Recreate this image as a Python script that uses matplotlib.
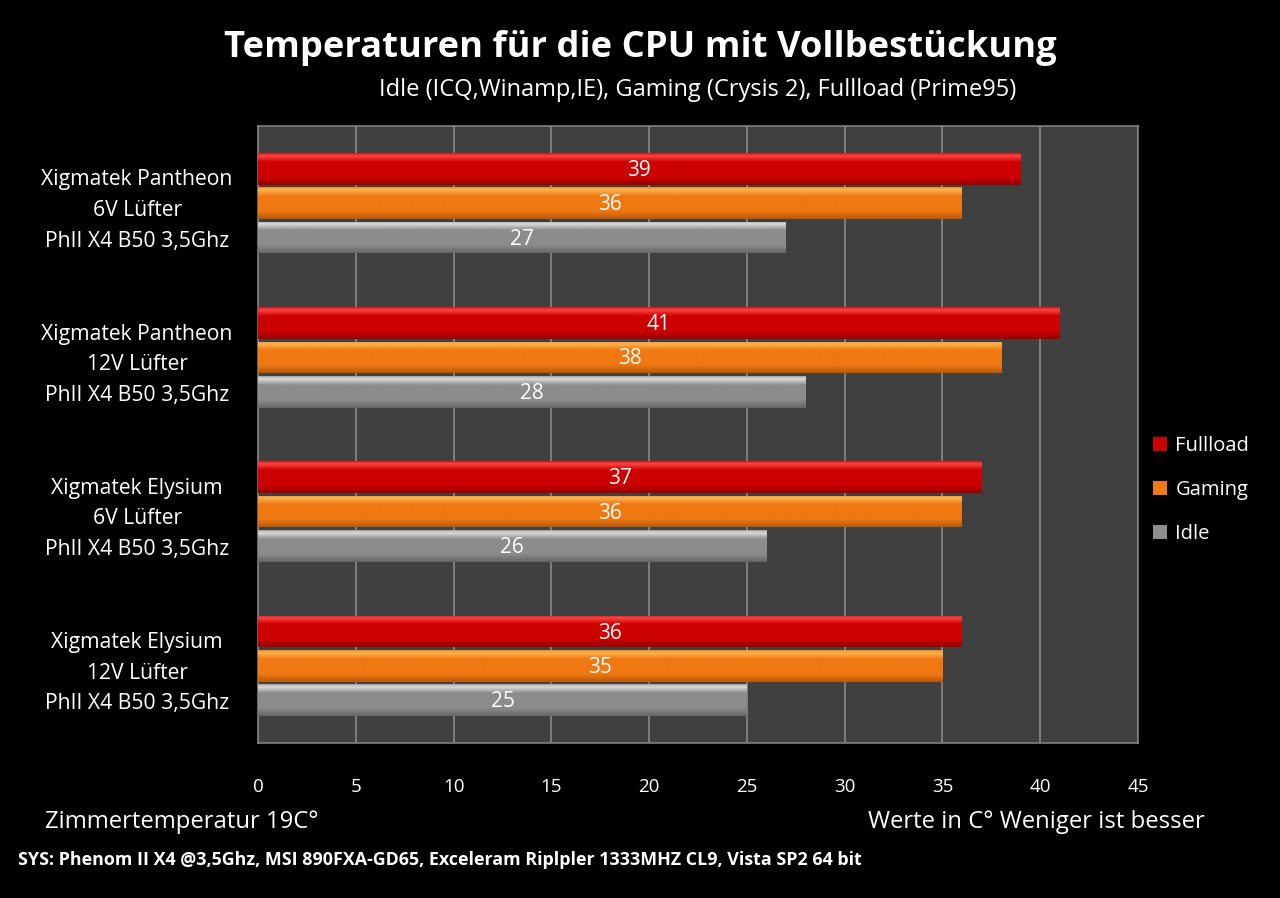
import matplotlib
matplotlib.use("Agg")
import matplotlib.pyplot as plt
import numpy as np
from matplotlib.colors import to_rgb

categories = [
    "Xigmatek Pantheon\n6V Lüfter\nPhII X4 B50 3,5Ghz",
    "Xigmatek Pantheon\n12V Lüfter\nPhII X4 B50 3,5Ghz",
    "Xigmatek Elysium\n6V Lüfter\nPhII X4 B50 3,5Ghz",
    "Xigmatek Elysium\n12V Lüfter\nPhII X4 B50 3,5Ghz",
]
series_names = ["Fullload", "Gaming", "Idle"]
fullload = [39, 41, 37, 36]
gaming = [36, 38, 36, 35]
idle = [27, 28, 26, 25]
xticks = [0, 5, 10, 15, 20, 25, 30, 35, 40, 45]

colors = ["#cc0000", "#f07812", "#8c8c8c"]
highlights = ["#ff4444", "#ffb450", "#dcdcdc"]
shadows = ["#9a0000", "#b85a08", "#666666"]

plt.rcParams['font.family'] = ['Open Sans', 'DejaVu Sans']

fig = plt.figure(figsize=(12.8, 8.98), dpi=100, facecolor="black")
W, H = 1280, 898
ax = fig.add_axes([258 / W, 1 - 743 / H, (1138 - 258) / W, (743 - 126) / H])
ax.set_facecolor("#404040")


def gradient(c, hl, sh, n=64):
    c, hl, sh = np.array(to_rgb(c)), np.array(to_rgb(hl)), np.array(to_rgb(sh))
    stops = [0.0, 0.08, 0.28, 0.75, 1.0]
    cols = [c * 0.7 + hl * 0.3, hl, c, c, sh]
    t = np.linspace(0, 1, n)
    rows = np.stack([np.interp(t, stops, [cc[k] for cc in cols]) for k in range(3)], axis=1)
    return rows[:, None, :]


y = np.arange(len(categories))
step = 0.223
bh = 0.205
data = [fullload, gaming, idle]
handles = []
for i, (vals, c, hl, sh) in enumerate(zip(data, colors, highlights, shadows)):
    pos = y + (i - 1) * step
    bars = ax.barh(pos, vals, height=bh, color=c, zorder=3, label=series_names[i], linewidth=0)
    handles.append(bars)
    grad = gradient(c, hl, sh)
    for rect, p, v in zip(bars.patches, pos, vals):
        im = ax.imshow(grad, extent=(0, v, p + bh / 2, p - bh / 2), origin="upper",
                       aspect="auto", zorder=3.5, interpolation="bilinear")
        im.set_clip_path(rect)
        ax.text(v / 2, p + 0.01, str(v), color="white", ha="center", va="center",
                fontsize=15, zorder=5)

ax.set_xlim(0, 45)
ax.set_ylim(3.5, -0.5)
ax.set_xticks(xticks)
ax.set_xticklabels([str(t) for t in xticks], color="white", fontsize=13.5)
ax.tick_params(axis="x", length=0, pad=25)
ax.set_yticks(y)
ax.set_yticklabels(categories, color="white", fontsize=15.2, linespacing=1.6, ha="center")
ax.tick_params(axis="y", length=0, pad=87)
ax.grid(axis="x", color="#8a8a8a", linewidth=1.2, zorder=1)
for s in ax.spines.values():
    s.set_color("#808080")
    s.set_linewidth(1.2)

leg = fig.legend(handles=handles, labels=series_names, loc="upper left",
                 bbox_to_anchor=(1135 / W, 1 - 418 / H), frameon=False,
                 labelcolor="white", fontsize=14.5, handlelength=0.7, handleheight=0.7,
                 handletextpad=0.4, labelspacing=1.18)

fig.text(640 / W, 1 - 48 / H, "Temperaturen für die CPU mit Vollbestückung",
         color="white", fontsize=26.2, fontweight="bold", ha="center", va="center")
fig.text(698 / W, 1 - 90 / H, "Idle (ICQ,Winamp,IE), Gaming (Crysis 2), Fullload (Prime95)",
         color="white", fontsize=17, ha="center", va="center")
fig.text(45 / W, 1 - 822 / H, "Zimmertemperatur 19C°", color="white", fontsize=17.2,
         ha="left", va="center")
fig.text(1205 / W, 1 - 822 / H, "Werte in C° Weniger ist besser", color="white",
         fontsize=17.2, ha="right", va="center")
fig.text(18 / W, 1 - 860 / H,
         "SYS: Phenom II X4 @3,5Ghz, MSI 890FXA-GD65, Exceleram Riplpler 1333MHZ CL9, Vista SP2 64 bit",
         color="white", fontsize=12.9, fontweight="bold", ha="left", va="center")

fig.savefig("out.png", dpi=100, facecolor="black")
